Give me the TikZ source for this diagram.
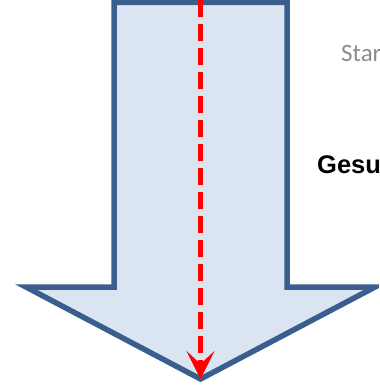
\documentclass[tikz,border=0pt]{standalone}
\usepackage{fontspec}
\usetikzlibrary{arrows.meta}
\newfontfamily\calibrifont{Carlito}
\newfontfamily\arialfont{Liberation Sans}
\definecolor{arrowfill}{HTML}{DBE5F1}
\definecolor{arrowline}{HTML}{3A5F8E}
\definecolor{textgray}{HTML}{8C8C8C}
\begin{document}
\begin{tikzpicture}[x=1pt, y=-1pt, >={Stealth[length=28pt, width=28pt, inset=13pt]}]
            \useasboundingbox (0,0) rectangle (379,387);
            \clip (0,0) rectangle (379,387);
            \coordinate (A) at (114,2.5);
            \coordinate (B) at (287,2.5);
            \coordinate (C) at (287,287);
            \coordinate (D) at (375,287);
            \coordinate (E) at (200.5,379);
            \coordinate (F) at (26,287);
            \coordinate (G) at (114,287);
            \filldraw[fill=arrowfill, draw=arrowline, line width=5.5pt, miter limit=20]
                (A) -- (B) -- (C) -- (D) -- (E) -- (F) -- (G) -- cycle;
            \coordinate (top) at (200.5,0);
            \draw[->, red, line width=5.5pt, dash pattern=on 17pt off 7pt] (top) -- (E);
            \node[anchor=base west, inner sep=0, text=textgray] (start) at (341,62)
                {\calibrifont\fontsize{25pt}{30pt}\selectfont Star};
            \node[anchor=base west, inner sep=0] (gesu) at (317,173)
                {\arialfont\bfseries\fontsize{25.5pt}{30pt}\selectfont Gesu};
    \end{tikzpicture}
\end{document}
